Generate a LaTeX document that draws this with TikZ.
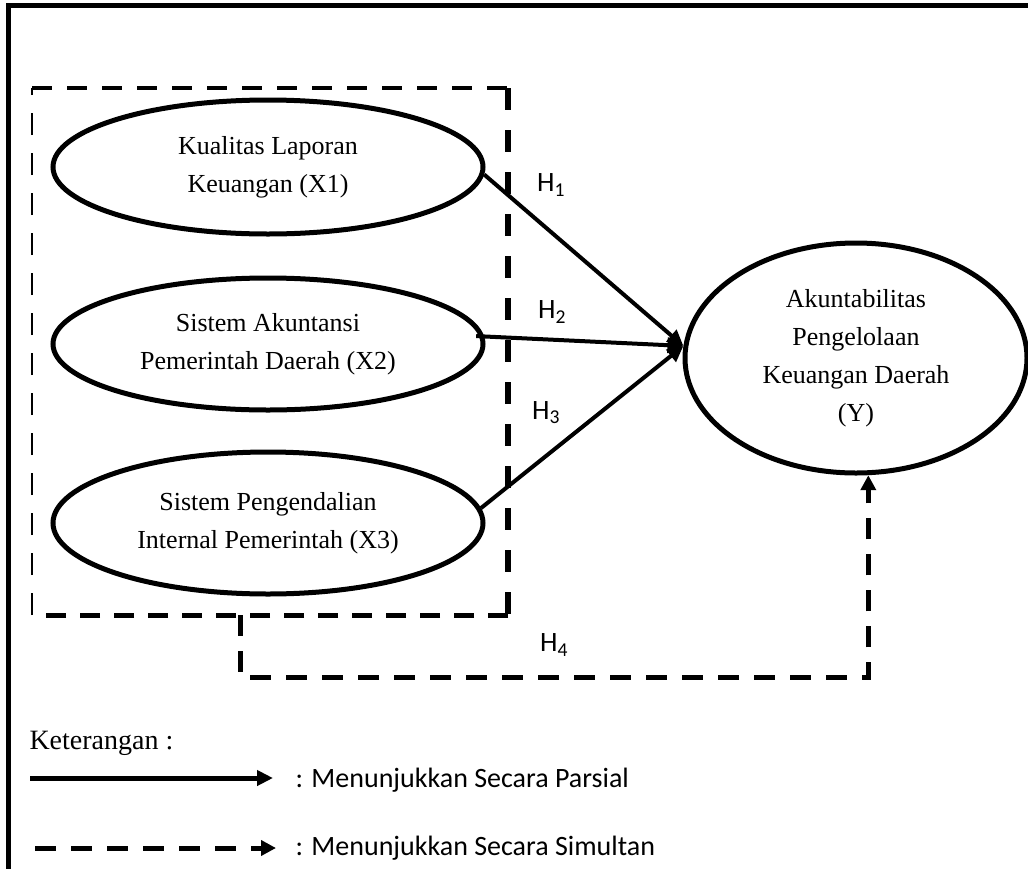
\documentclass[tikz,border=0pt]{standalone}
\usepackage{fontspec}
\setmainfont{Liberation Serif}
\newfontfamily\calibri{Carlito}
\usetikzlibrary{arrows.meta, shapes.geometric}

\begin{document}
\begin{tikzpicture}[x=1pt, y=-1pt, var/.style={ellipse, draw, line width=5pt, align=center, inner sep=0pt, font=\fontsize{26}{38}\selectfont}, partial/.style={-{Triangle[length=16pt, width=15pt]}, line width=4pt}, simul/.style={-{Triangle[length=15pt, width=15pt]}, line width=5pt, dash pattern=on 21pt off 15pt}, hlab/.style={font=\calibri\fontsize{28}{30}\selectfont}, note/.style={font=\calibri\fontsize{28}{30}\selectfont, anchor=west}]

\useasboundingbox (0,0) rectangle (1028,868); \clip (0,0) rectangle (1028,868);
\draw[line width=5pt] (8,5) rectangle (1060,900);

\coordinate (bTL) at (32,88); \coordinate (bTR) at (508,88); \coordinate (bBR) at (508,615); \coordinate (bBL) at (32,615);
\draw[line width=2pt, dash pattern=on 22pt off 18pt] (bBL)--(bTL); \draw[line width=4pt, dash pattern=on 20pt off 15pt] (bTL)--(bTR); \draw[line width=6pt, dash pattern=on 22pt off 20pt] (bTR)--(bBR); \draw[line width=5pt, dash pattern=on 20pt off 14pt] (bBR)--(bBL);

\node[var, minimum width=430pt, minimum height=134pt] (x1) at (268,167) {Kualitas Laporan\\Keuangan (X1)};
\node[var, minimum width=430pt, minimum height=132pt] (x2) at (268,344) {Sistem Akuntansi\\Pemerintah Daerah (X2)};
\node[var, minimum width=430pt, minimum height=142pt] (x3) at (268,523) {Sistem Pengendalian\\Internal Pemerintah (X3)};
\node[var, minimum width=342pt, minimum height=230pt] (y) at (856,358) {Akuntabilitas\\Pengelolaan\\Keuangan Daerah\\(Y)};

\draw[partial] (x1.-2) -- (y.176); \draw[partial, shorten <=-8pt] (x2.2) -- (y.176); \draw[partial] (x3.4) -- (y.176);
\node[hlab] (h1) at (551,185) {H\textsubscript{1}}; \node[hlab] (h2) at (552,312) {H\textsubscript{2}}; \node[hlab] (h3) at (546,413) {H\textsubscript{3}};

\coordinate (h4s) at (240,615); \draw[simul] (h4s) -- (240,677) -| (y.-84); \node[hlab] (h4) at (554,645) {H\textsubscript{4}};

\node[font=\fontsize{28}{30}\selectfont, anchor=west] (ket) at (26,743) {Keterangan :};
\coordinate (ls1) at (30,778); \coordinate (le1) at (273,778); \draw[partial, line width=5pt] (ls1) -- (le1); \node[note] (n1) at (292,780) {: Menunjukkan Secara Parsial};
\coordinate (ls2) at (35,848); \coordinate (le2) at (276,848); \draw[simul] (ls2) -- (le2); \node[note] (n2) at (292,848) {: Menunjukkan Secara Simultan};
\end{tikzpicture}
\end{document}
